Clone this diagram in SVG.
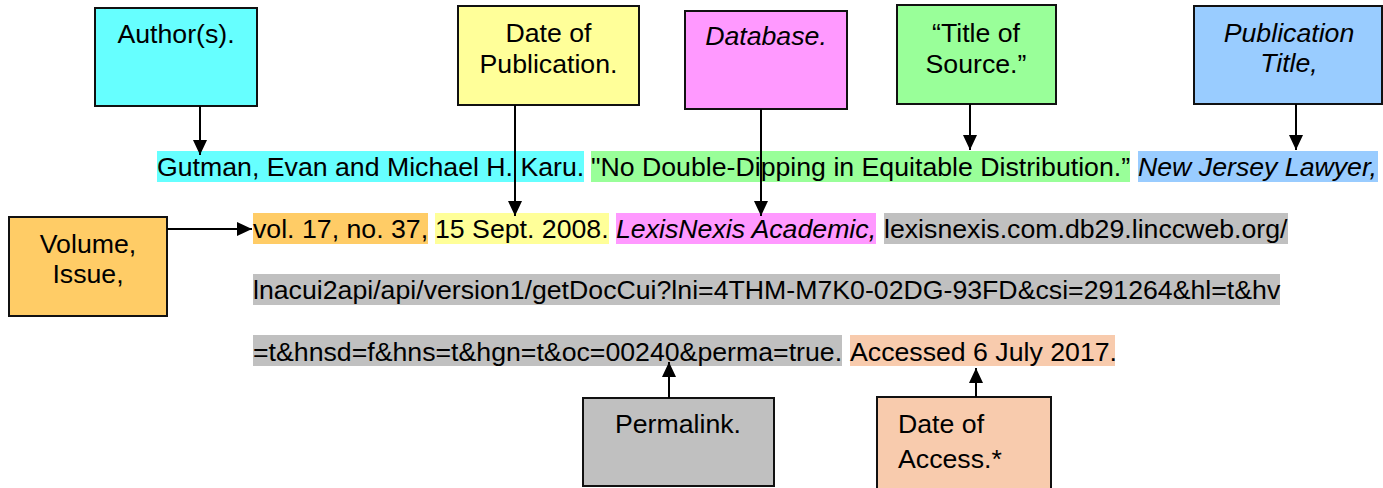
<svg xmlns="http://www.w3.org/2000/svg" width="1383" height="488" viewBox="0 0 1383 488">
<defs>
<style>
text{font-family:"Liberation Sans",Arial,sans-serif;font-size:26.7px;fill:#000}
.it{font-style:italic}
.c{text-anchor:middle}
.box{stroke:#111;stroke-width:2}
.conn line{stroke:#000;stroke-width:2}
</style>
<marker id="ah" markerUnits="userSpaceOnUse" markerWidth="15" markerHeight="14" refX="15" refY="7" orient="auto">
<path d="M0,0 L15,7 L0,14 z" fill="#000"/>
</marker>
</defs>
<rect width="1383" height="488" fill="#fff"/>

<g id="citation">
<rect x="157" y="151" width="427" height="31" fill="#66FFFF"/>
<rect x="591" y="151" width="539" height="31" fill="#99FF99"/>
<rect x="1138" y="151" width="240" height="31" fill="#99CCFF"/>
<text x="157" y="176">Gutman, Evan and Michael H. Karu.</text>
<text x="591" y="176">"No Double-Dipping in Equitable Distribution.”</text>
<text x="1138" y="176" class="it">New Jersey Lawyer,</text>

<rect x="253" y="213" width="175" height="31" fill="#FFCC66"/>
<rect x="435" y="213" width="174" height="31" fill="#FFFF99"/>
<rect x="616" y="213" width="260" height="31" fill="#FF99FF"/>
<rect x="884" y="213" width="404" height="31" fill="#C0C0C0"/>
<text x="253" y="238">vol. 17, no. 37,</text>
<text x="435" y="238">15 Sept. 2008.</text>
<text x="616" y="238" class="it">LexisNexis Academic,</text>
<text x="884" y="238">lexisnexis.com.db29.linccweb.org/</text>

<rect x="253" y="274" width="1027" height="31" fill="#C0C0C0"/>
<text x="253" y="299">lnacui2api/api/version1/getDocCui?lni=4THM-M7K0-02DG-93FD&amp;csi=291264&amp;hl=t&amp;hv</text>

<rect x="253" y="335" width="589" height="31" fill="#C0C0C0"/>
<rect x="850" y="335" width="265" height="31" fill="#F8CBAD"/>
<text x="253" y="361">=t&amp;hnsd=f&amp;hns=t&amp;hgn=t&amp;oc=00240&amp;perma=true.</text>
<text x="850" y="361">Accessed 6 July 2017.</text>
</g>

<g id="node-author">
<rect class="box" x="95" y="8" width="162" height="98" fill="#66FFFF"/>
<text class="c" x="176" y="43">Author(s).</text>
</g>
<g id="node-date-pub">
<rect class="box" x="458" y="6" width="181" height="99" fill="#FFFF99"/>
<text class="c" x="548.5" y="42">Date of</text>
<text class="c" x="548.5" y="73">Publication.</text>
</g>
<g id="node-database">
<rect class="box" x="685" y="11" width="162" height="98" fill="#FF99FF"/>
<text class="c it" x="766" y="45">Database.</text>
</g>
<g id="node-title-source">
<rect class="box" x="897" y="5" width="159" height="99" fill="#99FF99"/>
<text class="c" x="976" y="42">“Title of</text>
<text class="c" x="976" y="73">Source.”</text>
</g>
<g id="node-pub-title">
<rect class="box" x="1194" y="6" width="188" height="98" fill="#99CCFF"/>
<text class="c it" x="1289" y="42">Publication</text>
<text class="c it" x="1289" y="72">Title,</text>
</g>
<g id="node-volume">
<rect class="box" x="9" y="217" width="158" height="99" fill="#FFCC66"/>
<text class="c" x="88" y="253">Volume,</text>
<text class="c" x="88" y="283">Issue,</text>
</g>
<g id="node-permalink">
<rect class="box" x="583" y="398" width="191" height="88" fill="#C0C0C0"/>
<text class="c" x="678" y="433">Permalink.</text>
</g>
<g id="node-date-access">
<rect class="box" x="877" y="397" width="174" height="110" fill="#F8CBAD"/>
<text x="898" y="433">Date of</text>
<text x="898" y="468">Access.*</text>
</g>

<g id="connectors" class="conn">
<line x1="200" y1="106" x2="200" y2="155" marker-end="url(#ah)"/>
<line x1="515" y1="105" x2="515" y2="216" marker-end="url(#ah)"/>
<line x1="761" y1="109" x2="761" y2="216" marker-end="url(#ah)"/>
<line x1="970" y1="104" x2="970" y2="150" marker-end="url(#ah)"/>
<line x1="1296" y1="104" x2="1296" y2="150" marker-end="url(#ah)"/>
<line x1="167" y1="229" x2="252" y2="229" marker-end="url(#ah)"/>
<line x1="669" y1="398" x2="669" y2="362" marker-end="url(#ah)"/>
<line x1="976" y1="397" x2="976" y2="368" marker-end="url(#ah)"/>
</g>
</svg>
